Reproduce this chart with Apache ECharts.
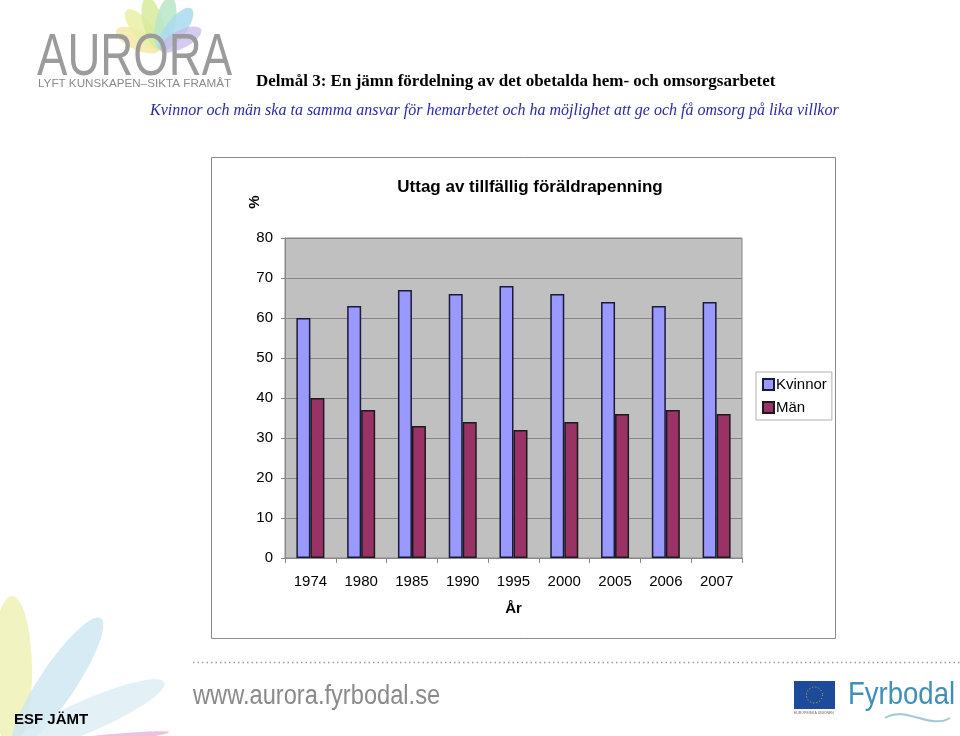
<!DOCTYPE html>
<html><head><meta charset="utf-8">
<script src="https://cdn.jsdelivr.net/npm/echarts@6/dist/echarts.min.js"></script>
<style>html,body{margin:0;padding:0;background:#fff}#c{width:960px;height:736px}</style>
</head><body><div id="c"></div>
<script>
const years = ['1974','1980','1985','1990','1995','2000','2005','2006','2007'];
const kvinnor = [60,63,67,66,68,66,64,63,64];
const man = [40,37,33,34,32,34,36,37,36];
const yTicks = {min:0,max:80,interval:10};
const seriesNames = ['Kvinnor','Män'];

const chart = echarts.init(document.getElementById('c'));
const sans = 'Liberation Sans, Arial, sans-serif';
const serif = 'Liberation Serif, Times New Roman, serif';

function petal(cx, cy, rx, ry, rot, color, op){
  return {type:'ellipse', shape:{cx:0,cy:-ry,rx:rx,ry:ry}, x:cx, y:cy, rotation:rot,
    style:{fill:color, opacity:op}, silent:true, z:0};
}

chart.setOption({
  backgroundColor:'#fff',
  animation:false,
  title:{text:'Uttag av tillfällig föräldrapenning', left:525, textAlign:'center', top:174,
    textStyle:{fontFamily:sans, fontSize:17, fontWeight:'bold', color:'#000'}},
  legend:{orient:'vertical', left:756, top:372, data:seriesNames,
    itemWidth:11, itemHeight:11, itemGap:8, padding:[5,5,5,6],
    borderColor:'#b0b0b0', borderWidth:1, icon:'rect',
    textStyle:{fontFamily:sans, fontSize:15, color:'#000', padding:[0,0,0,-3]}},
  grid:{left:285, right:218, top:238, bottom:178, show:true, backgroundColor:'#c0c0c0', borderColor:'#888', borderWidth:1},
  xAxis:{type:'category', data:years, name:'År', nameLocation:'middle', nameGap:43,
    nameTextStyle:{fontFamily:sans, fontSize:15, fontWeight:'bold', color:'#000'},
    axisLine:{lineStyle:{color:'#888'}}, axisTick:{show:true, alignWithLabel:false, length:5, lineStyle:{color:'#888'}},
    axisLabel:{fontFamily:sans, fontSize:15, color:'#000', margin:16}},
  yAxis:{type:'value', min:yTicks.min, max:yTicks.max, interval:yTicks.interval,
    axisLine:{show:true, lineStyle:{color:'#888'}}, axisTick:{show:true, length:4, lineStyle:{color:'#888'}},
    splitLine:{lineStyle:{color:'#858585', width:1}},
    axisLabel:{fontFamily:sans, fontSize:15, color:'#000', margin:12}},
  series:[
    {name:seriesNames[0], type:'bar', data:kvinnor, barWidth:14, barGap:'0%',
      itemStyle:{color:'#9999ff', borderColor:'#1a1a3a', borderWidth:1.5}},
    {name:seriesNames[1], type:'bar', data:man, barWidth:14,
      itemStyle:{color:'#993366', borderColor:'#1a1a1a', borderWidth:1.5}}
  ],
  graphic:[
    // chart frame
    {type:'rect', shape:{x:211.5,y:157.5,width:624,height:481}, style:{fill:'none', stroke:'#8a8a8a', lineWidth:1}, silent:true, z:-1},
    {type:'text', x:255, y:202, rotation:Math.PI/2, style:{text:'%', fontFamily:sans, fontSize:15, fontWeight:'bold', fill:'#000', align:'center', verticalAlign:'middle'}},
    // Aurora logo petals (fan above the O)
    petal(160,50,10,24,1.15,'#f4e7a6',0.85),
    petal(160,50,10,26,0.7,'#eaeea4',0.85),
    petal(160,50,10,27,0.25,'#d7eb9c',0.85),
    petal(160,50,10,27,-0.2,'#b9e5c9',0.85),
    petal(160,50,10,26,-0.65,'#a9dbee',0.85),
    petal(160,50,9,23,-1.1,'#c7b9e6',0.75),
    {type:'text', x:37, y:28, scaleX:0.76, style:{text:'AURORA', fontFamily:sans, fontSize:60, fill:'#9b9b9b'}, z:2},
    {type:'text', x:38, y:79, scaleX:1.11, style:{text:'LYFT KUNSKAPEN–SIKTA FRAMÅT', fontFamily:sans, fontSize:10.5, fill:'#8a8a8a'}, z:2},
    // headings
    {type:'text', x:256, y:73, style:{text:'Delmål 3: En jämn fördelning av det obetalda hem- och omsorgsarbetet', fontFamily:serif, fontSize:17, fontWeight:'bold', fill:'#000'}},
    {type:'text', x:150, y:103, style:{text:'Kvinnor och män ska ta samma ansvar för hemarbetet och ha möjlighet att ge och få omsorg på lika villkor', fontFamily:serif, fontSize:16, fontStyle:'italic', fill:'#2a2aa8'}},
    // footer
    {type:'line', shape:{x1:193,y1:662.5,x2:960,y2:662.5}, style:{stroke:'#9a9a9a', lineWidth:1.5, lineDash:[1.5,3]}, silent:true},
    {type:'text', x:193, y:683, scaleX:0.876, style:{text:'www.aurora.fyrbodal.se', fontFamily:sans, fontSize:27, fill:'#8a8a8a'}},
    petal(12,748,20,76,0,'#eef0b0',0.8),
    petal(14,748,18,78,-0.59,'#cde6f2',0.8),
    petal(14,748,16,82,-1.16,'#dcedf5',0.8),
    petal(14,748,4,78,-1.47,'#e6a6cc',0.7),
    {type:'text', x:14, y:712, style:{text:'ESF JÄMT', fontFamily:sans, fontSize:15, fontWeight:'bold', fill:'#000'}, z:3},
    {type:'rect', shape:{x:794,y:681,width:41,height:28}, style:{fill:'#1d4a9b'}, silent:true},
    {type:'circle', shape:{cx:814.5,cy:695,r:8}, style:{fill:'none', stroke:'#e8c800', lineWidth:1, lineDash:[1,2.2]}, silent:true},
    {type:'text', x:794, y:711, style:{text:'EUROPEISKA UNIONEN', fontFamily:sans, fontSize:3.5, fill:'#666'}},
    {type:'text', x:848, y:679, scaleX:0.86, style:{text:'Fyrbodal', fontFamily:sans, fontSize:32, fill:'#3f8fb8'}},
    {type:'bezierCurve', shape:{x1:885,y1:718,x2:950,y2:718,cpx1:905,cpy1:705,cpx2:930,cpy2:730}, style:{stroke:'#9fc8d8', lineWidth:2, fill:'none'}}
  ]
});
</script></body></html>
